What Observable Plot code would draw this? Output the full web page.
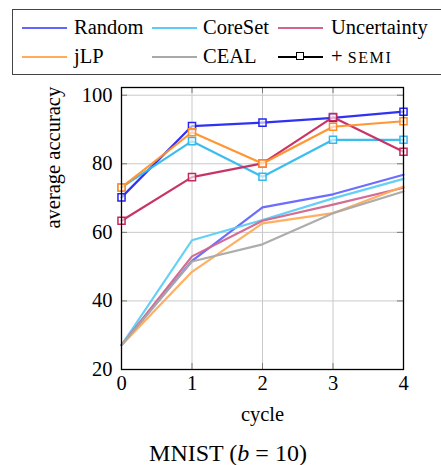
<!DOCTYPE html>
<html><head><meta charset="utf-8">
<script src="https://cdn.jsdelivr.net/npm/d3@7"></script>
<script src="https://cdn.jsdelivr.net/npm/@observablehq/plot@0.6"></script>
<style>
body{margin:0;background:#fff;}
#wrap{position:relative;width:441px;height:465px;overflow:hidden;font-family:'Liberation Serif',serif;color:#000;}
.lg-box{position:absolute;left:12px;top:8.5px;width:440px;height:66px;border:1.5px solid #444;box-sizing:border-box;}
.lg-line{position:absolute;height:2px;width:45px;}
.lg-text{position:absolute;font-family:'Liberation Serif',serif;font-size:20.5px;line-height:1;white-space:nowrap;}
.sq{position:absolute;width:6px;height:6px;border:1.5px solid #000;background:#fff;}
#cap{position:absolute;left:78px;width:300px;top:441px;text-align:center;font-family:'Liberation Serif',serif;font-size:24px;line-height:1;white-space:nowrap;}
svg text{font-family:'Liberation Serif',serif !important;}
</style></head><body><div id="wrap"></div>
<script>
// ---- data ----
const cycles = [0, 1, 2, 3, 4];
const methods = ["Random", "CoreSet", "Uncertainty", "jLP", "CEAL"];
const yTicks = [20, 40, 60, 80, 100];
const xTicks = [0, 1, 2, 3, 4];
// plain methods (no markers)
const randomBase      = [27.1, 51.7, 67.3, 71.1, 76.8];
const coresetBase     = [27.1, 57.7, 63.6, 69.9, 75.6];
const uncertaintyBase = [27.1, 53.0, 63.4, 68.1, 73.0];
const jlpBase         = [27.1, 48.5, 62.6, 65.6, 73.4];
const cealBase        = [27.1, 51.5, 56.5, 65.6, 71.9];
// + SEMI (square markers)
const randomSemi      = [70.2, 91.0, 92.0, 93.4, 95.2];
const coresetSemi     = [73.1, 86.6, 76.2, 87.0, 87.0];
const uncertaintySemi = [63.4, 76.1, 80.1, 93.6, 83.5];
const jlpSemi         = [73.1, 89.2, 80.1, 90.8, 92.4];

const baseColors = {Random:"#6464ff", CoreSet:"#5ccdf5", Uncertainty:"#d2648e", jLP:"#ffab58", CEAL:"#a9a9a9"};
const semiColors = {Random:"#2626f2", CoreSet:"#33b9ec", Uncertainty:"#c6295e", jLP:"#ff9028"};

const baseSeries = {Random: randomBase, CoreSet: coresetBase, Uncertainty: uncertaintyBase, jLP: jlpBase, CEAL: cealBase};
const semiSeries = {Random: randomSemi, CoreSet: coresetSemi, Uncertainty: uncertaintySemi, jLP: jlpSemi};

const rows = (vals) => cycles.map((c, i) => ({cycle: c, acc: vals[i]}));

const font = "'Liberation Serif', serif";
const marks = [
  Plot.gridX(xTicks, {stroke: "#c9c9c9", strokeOpacity: 1, strokeWidth: 1}),
  Plot.gridY(yTicks, {stroke: "#c9c9c9", strokeOpacity: 1, strokeWidth: 1}),
  Plot.ruleY(yTicks, {y: d => d, x1: 0, x2: 0.085, stroke: "#7a7a7a", strokeWidth: 1}),
  Plot.ruleY(yTicks, {y: d => d, x1: 3.915, x2: 4, stroke: "#7a7a7a", strokeWidth: 1}),
  Plot.ruleX(xTicks, {x: d => d, y1: 20, y2: 21.75, stroke: "#7a7a7a", strokeWidth: 1}),
  Plot.ruleX(xTicks, {x: d => d, y1: 100.5, y2: 102.25, stroke: "#7a7a7a", strokeWidth: 1}),
];
for (const m of methods) {
  marks.push(Plot.line(rows(baseSeries[m]), {x: "cycle", y: "acc", stroke: baseColors[m], strokeWidth: 2.2, strokeOpacity: 0.95}));
}
for (const m of Object.keys(semiSeries)) {
  marks.push(Plot.line(rows(semiSeries[m]), {x: "cycle", y: "acc", stroke: semiColors[m], strokeWidth: 2.2, strokeOpacity: 0.95}));
  marks.push(Plot.dot(rows(semiSeries[m]), {x: "cycle", y: "acc", stroke: semiColors[m], symbol: "square", r: 4, fill: "white", fillOpacity: 0.6, strokeWidth: 1.5}));
}
marks.push(
  Plot.frame({stroke: "black", strokeWidth: 1.3}),
  Plot.axisY(yTicks, {tickSize: 0, tickPadding: 9, label: null, fontSize: 20.5, fontFamily: font}),
  Plot.axisX(xTicks, {tickSize: 0, tickPadding: 6, label: null, fontSize: 20.5, fontFamily: font}),
  Plot.text(["average accuracy"], {text: d => d, frameAnchor: "left", dx: -68, rotate: -90, fontSize: 20.5, fontFamily: font}),
  Plot.text(["cycle"], {text: d => d, frameAnchor: "bottom", dy: 51.5, fontSize: 20.5, fontFamily: font})
);

const chart = Plot.plot({
  width: 441,
  height: 355,
  marginLeft: 121,
  marginRight: 38,
  marginTop: 7,
  marginBottom: 66,
  x: {domain: [0, 4]},
  y: {domain: [20, 102.25]},
  style: {fontFamily: font, fontSize: "20.5px", color: "black", background: "white", overflow: "visible"},
  marks
});

const wrap = document.getElementById("wrap");
chart.style.position = "absolute";
chart.style.left = "0px";
chart.style.top = "80px";
wrap.appendChild(chart);

// legend
const box = document.createElement("div");
box.className = "lg-box";
wrap.appendChild(box);
const lineX = [22, 152, 278];
const textX = [74, 203, 331];
const lineY = [28, 56.5];
const textTop = [17.1, 46.1];
const legendItems = [
  {label: "Random", color: baseColors.Random},
  {label: "CoreSet", color: baseColors.CoreSet},
  {label: "Uncertainty", color: baseColors.Uncertainty},
  {label: "jLP", color: baseColors.jLP},
  {label: "CEAL", color: baseColors.CEAL},
  {label: "semi", color: "#000"}
];
legendItems.forEach((it, i) => {
  const r = Math.floor(i / 3), c = i % 3;
  const ln = document.createElement("div");
  ln.className = "lg-line";
  ln.style.left = lineX[c] + "px";
  ln.style.top = (lineY[r] - 1) + "px";
  ln.style.background = it.color;
  wrap.appendChild(ln);
  const tx = document.createElement("div");
  tx.className = "lg-text";
  tx.style.left = textX[c] + "px";
  tx.style.top = textTop[r] + "px";
  if (it.label === "semi") {
    tx.innerHTML = '+ <span style="font-size:16px;letter-spacing:1.6px">SEMI</span>';
    const sq = document.createElement("div");
    sq.className = "sq";
    sq.style.left = (lineX[c] + 22.5 - 4.5) + "px";
    sq.style.top = (lineY[r] - 4.5) + "px";
    wrap.appendChild(sq);
  } else {
    tx.textContent = it.label;
  }
  wrap.appendChild(tx);
});

const cap = document.createElement("div");
cap.id = "cap";
cap.innerHTML = 'MNIST (<i>b</i> = 10)';
wrap.appendChild(cap);
</script>
</body></html>
